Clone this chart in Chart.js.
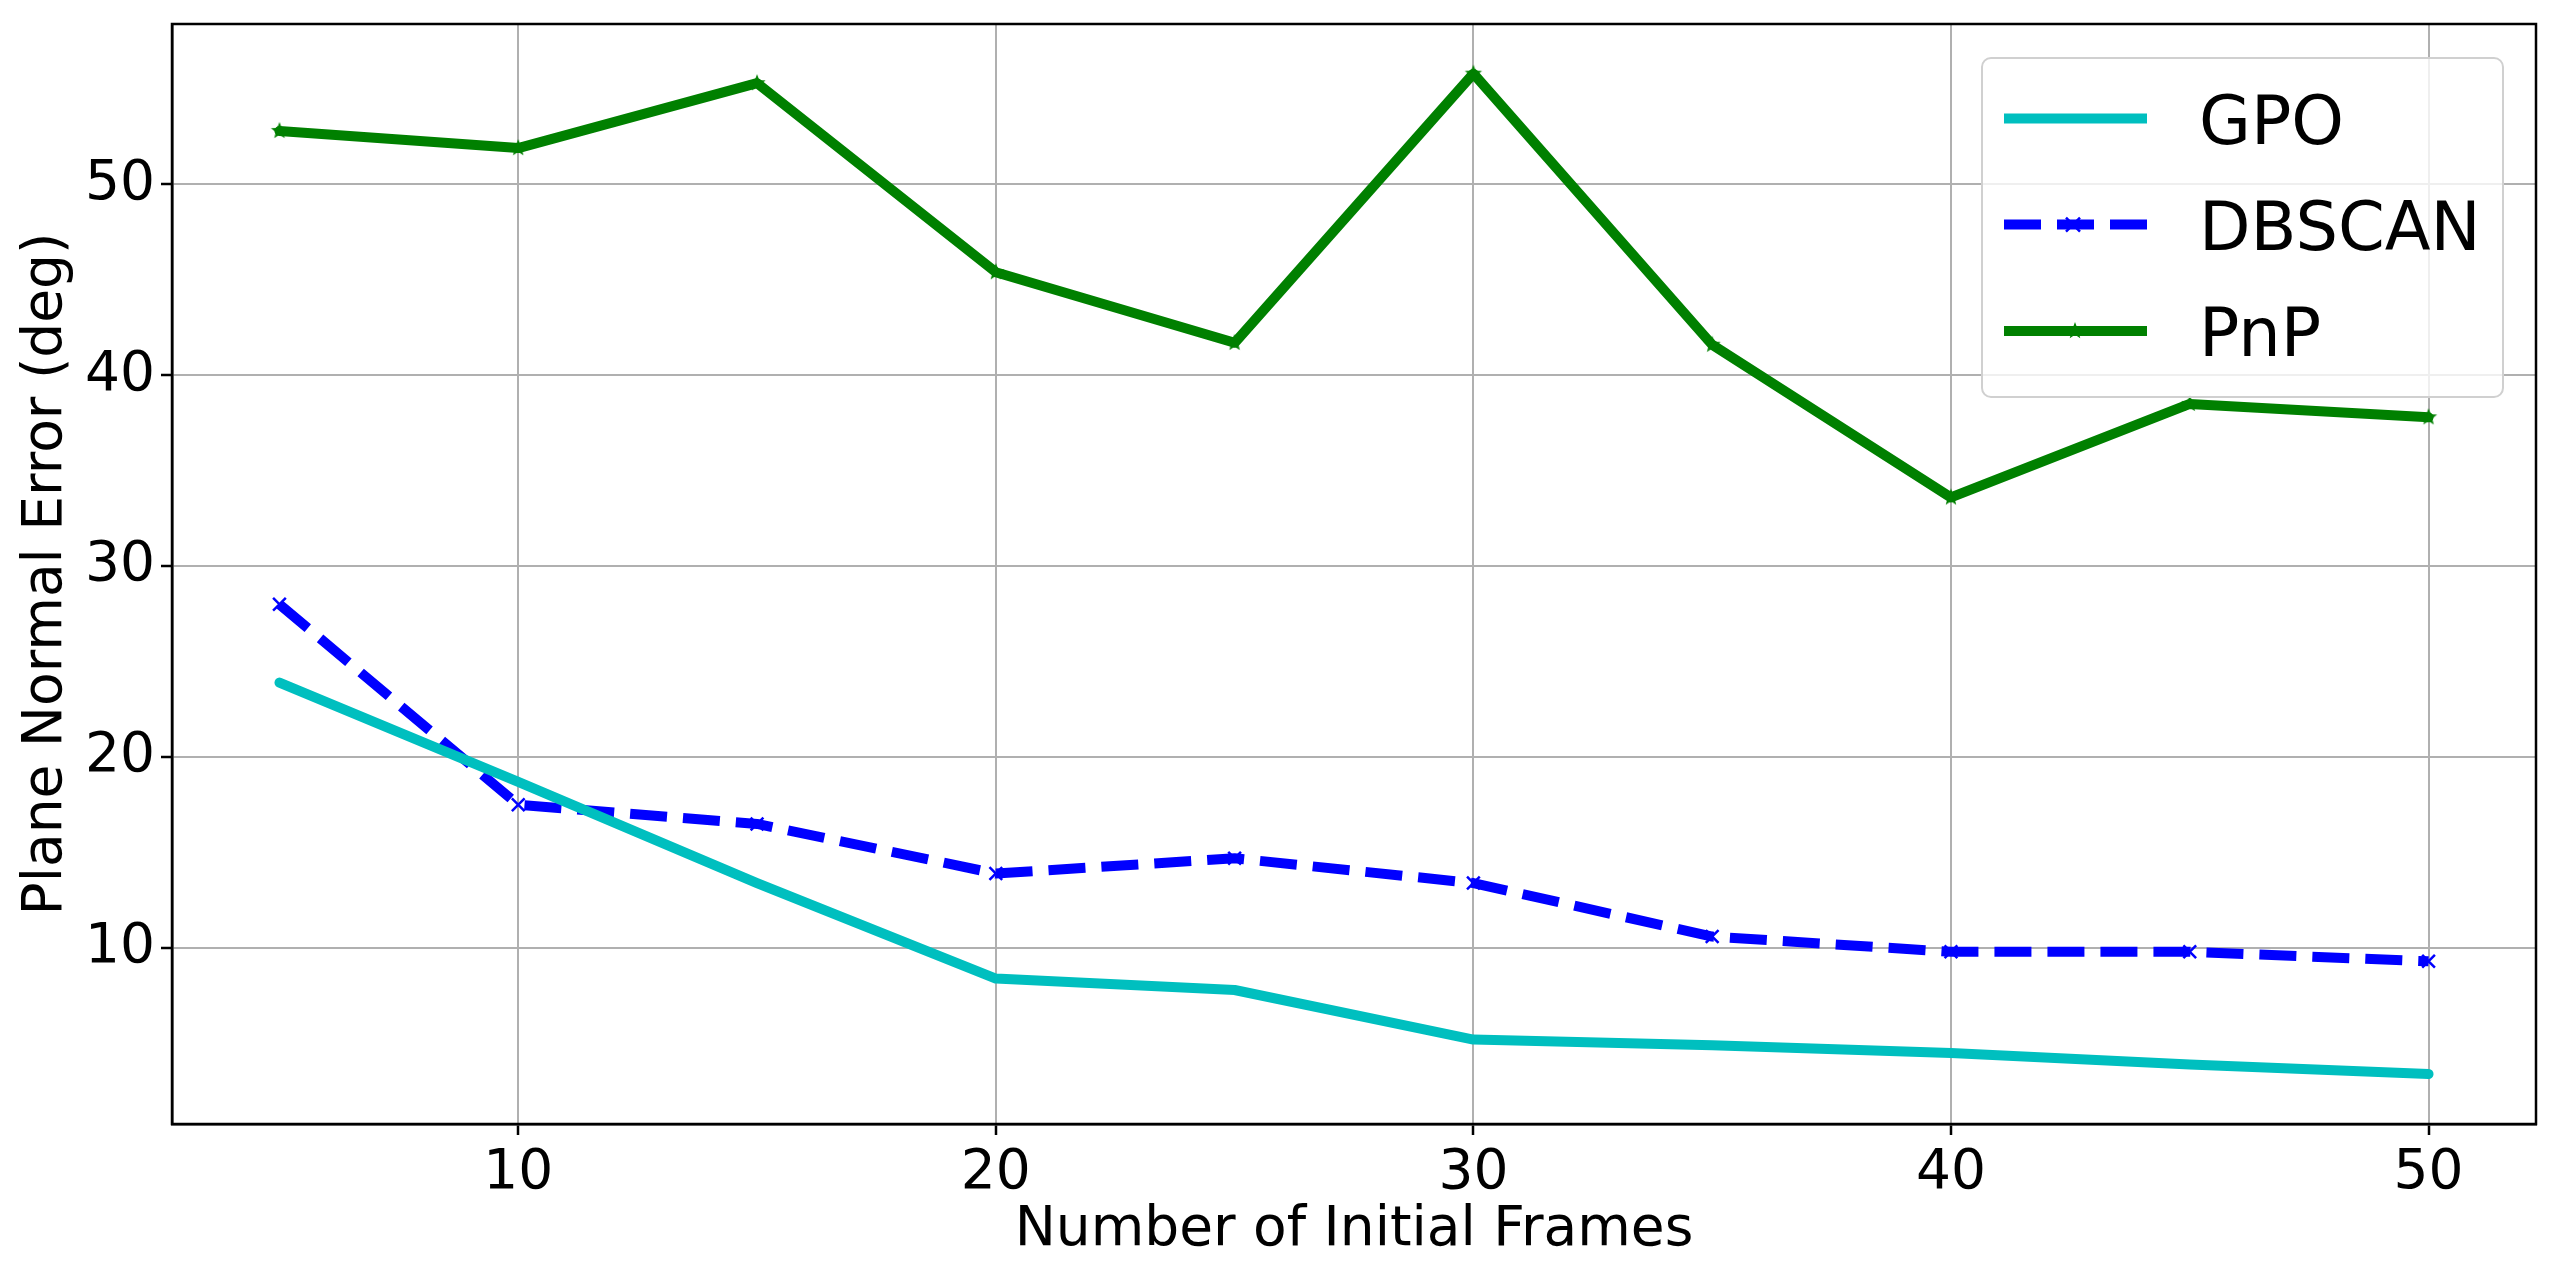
<!DOCTYPE html>
<html>
<head>
<meta charset="utf-8">
<script src="https://cdn.jsdelivr.net/npm/chart.js@4.4.1/dist/chart.umd.min.js"></script>
<style>
  body { margin: 0; background: #fff; }
  #wrap { width: 2560px; height: 1280px; }
</style>
</head>
<body>
<div id="wrap"><canvas id="errChart" width="2560" height="1280"></canvas></div>
<script>
var frames = [5, 10, 15, 20, 25, 30, 35, 40, 45, 50];
var gpoValues = [23.9, 18.7, 13.4, 8.4, 7.8, 5.2, 4.9, 4.5, 3.9, 3.4];
var dbscanValues = [28.0, 17.5, 16.5, 13.9, 14.7, 13.4, 10.6, 9.8, 9.8, 9.3];
var pnpValues = [52.8, 51.9, 55.3, 45.4, 41.7, 55.8, 41.6, 33.6, 38.5, 37.8];
var xTicks = [10, 20, 30, 40, 50];
var yTicks = [10, 20, 30, 40, 50];
var seriesNames = ["GPO", "DBSCAN", "PnP"];
var lineColors = ["#00bfbf", "#0000ff", "#008000"];

var FONT = "'DejaVu Sans', sans-serif";

// filled star marker like matplotlib '*'
function makeStar(color, r) {
  var c = document.createElement("canvas");
  c.width = c.height = r * 2 + 2;
  var g = c.getContext("2d");
  g.fillStyle = color;
  g.beginPath();
  for (var i = 0; i < 10; i++) {
    var rad = i % 2 === 0 ? r : r * 0.42;
    var a = -Math.PI / 2 + i * Math.PI / 5;
    var px = r + 1 + rad * Math.cos(a), py = r + 1 + rad * Math.sin(a);
    if (i === 0) g.moveTo(px, py); else g.lineTo(px, py);
  }
  g.closePath();
  g.fill();
  return c;
}
var starImg = makeStar(lineColors[2], 9);

function pts(vals) {
  return frames.map(function (f, i) { return { x: f, y: vals[i] }; });
}

var legendBox = {
  id: "legendBox",
  afterDraw: function (chart) {
    var ctx = chart.ctx;
    var a = chart.chartArea;
    // frame top / right
    ctx.save();
    ctx.strokeStyle = "#000";
    ctx.lineWidth = 2.5;
    ctx.strokeRect(a.left, a.top, a.right - a.left, a.bottom - a.top);

    var bx = 1982, by = 58, bw = 521, bh = 339, rr = 9;
    ctx.beginPath();
    ctx.roundRect(bx, by, bw, bh, rr);
    ctx.fillStyle = "rgba(255,255,255,0.8)";
    ctx.fill();
    ctx.strokeStyle = "#d0d0d0";
    ctx.lineWidth = 2;
    ctx.stroke();

    var rows = [118.6, 224.6, 331];
    chart.data.datasets.forEach(function (ds, i) {
      var y = rows[i];
      ctx.strokeStyle = ds.borderColor;
      ctx.lineWidth = ds.borderWidth;
      ctx.lineCap = "butt";
      ctx.setLineDash(ds.borderDash || []);
      ctx.beginPath();
      ctx.moveTo(2004, y);
      ctx.lineTo(2147, y);
      ctx.stroke();
      ctx.setLineDash([]);
      if (i === 1) {
        ctx.lineWidth = 2.5;
        ctx.beginPath();
        ctx.moveTo(2066, y - 7); ctx.lineTo(2080, y + 7);
        ctx.moveTo(2080, y - 7); ctx.lineTo(2066, y + 7);
        ctx.stroke();
      } else if (i === 2) {
        ctx.drawImage(starImg, 2075 - starImg.width / 2, y - starImg.height / 2);
      }
      ctx.fillStyle = "#000";
      ctx.font = "67px " + FONT;
      ctx.textBaseline = "alphabetic";
      ctx.fillText(ds.label, 2199, y + 25);
    });
    ctx.restore();
  }
};

new Chart("errChart", {
  type: "line",
  data: {
    datasets: [{
      label: seriesNames[0],
      data: pts(gpoValues),
      borderColor: lineColors[0],
      backgroundColor: lineColors[0],
      borderWidth: 10,
      pointRadius: 0,
      borderJoinStyle: "round",
      borderCapStyle: "round",
      tension: 0
    }, {
      label: seriesNames[1],
      data: pts(dbscanValues),
      borderColor: lineColors[1],
      backgroundColor: lineColors[1],
      borderWidth: 10,
      borderDash: [37, 16],
      pointStyle: "crossRot",
      pointRadius: 9,
      pointBorderWidth: 2.5,
      borderJoinStyle: "round",
      tension: 0
    }, {
      label: seriesNames[2],
      data: pts(pnpValues),
      borderColor: lineColors[2],
      backgroundColor: lineColors[2],
      borderWidth: 10,
      pointStyle: starImg,
      borderJoinStyle: "round",
      borderCapStyle: "round",
      tension: 0
    }]
  },
  options: {
    responsive: false,
    devicePixelRatio: 1,
    animation: false,
    events: [],
    layout: { padding: { top: 24, right: 24, left: 0, bottom: 0 } },
    plugins: {
      legend: { display: false },
      tooltip: { enabled: false }
    },
    scales: {
      x: {
        type: "linear",
        min: 2.75,
        max: 52.25,
        afterBuildTicks: function (s) { s.ticks = xTicks.map(function (v) { return { value: v }; }); },
        afterFit: function (s) { s.height = 156; s.paddingLeft = 0; s.paddingRight = 0; },
        ticks: { color: "#000", font: { family: FONT, size: 55 }, padding: 6, maxRotation: 0 },
        grid: { color: "#b0b0b0", lineWidth: 2, tickLength: 11, tickColor: "#000", tickWidth: 2.5 },
        border: { display: true, color: "#000", width: 2.5 },
        title: { display: true, text: "Number of Initial Frames", color: "#000",
                 font: { family: FONT, size: 55 }, padding: { top: 0, bottom: 16 } }
      },
      y: {
        type: "linear",
        min: 0.78,
        max: 58.4,
        afterBuildTicks: function (s) { s.ticks = yTicks.map(function (v) { return { value: v }; }); },
        afterFit: function (s) { s.width = 172; s.paddingTop = 0; s.paddingBottom = 0; },
        ticks: { color: "#000", font: { family: FONT, size: 55 }, padding: 6 },
        grid: { color: "#b0b0b0", lineWidth: 2, tickLength: 11, tickColor: "#000", tickWidth: 2.5 },
        border: { display: true, color: "#000", width: 2.5 },
        title: { display: true, text: "Plane Normal Error (deg)", color: "#000",
                 font: { family: FONT, size: 55 }, padding: { top: 14, bottom: 0 } }
      }
    }
  },
  plugins: [legendBox]
});
</script>
</body>
</html>
